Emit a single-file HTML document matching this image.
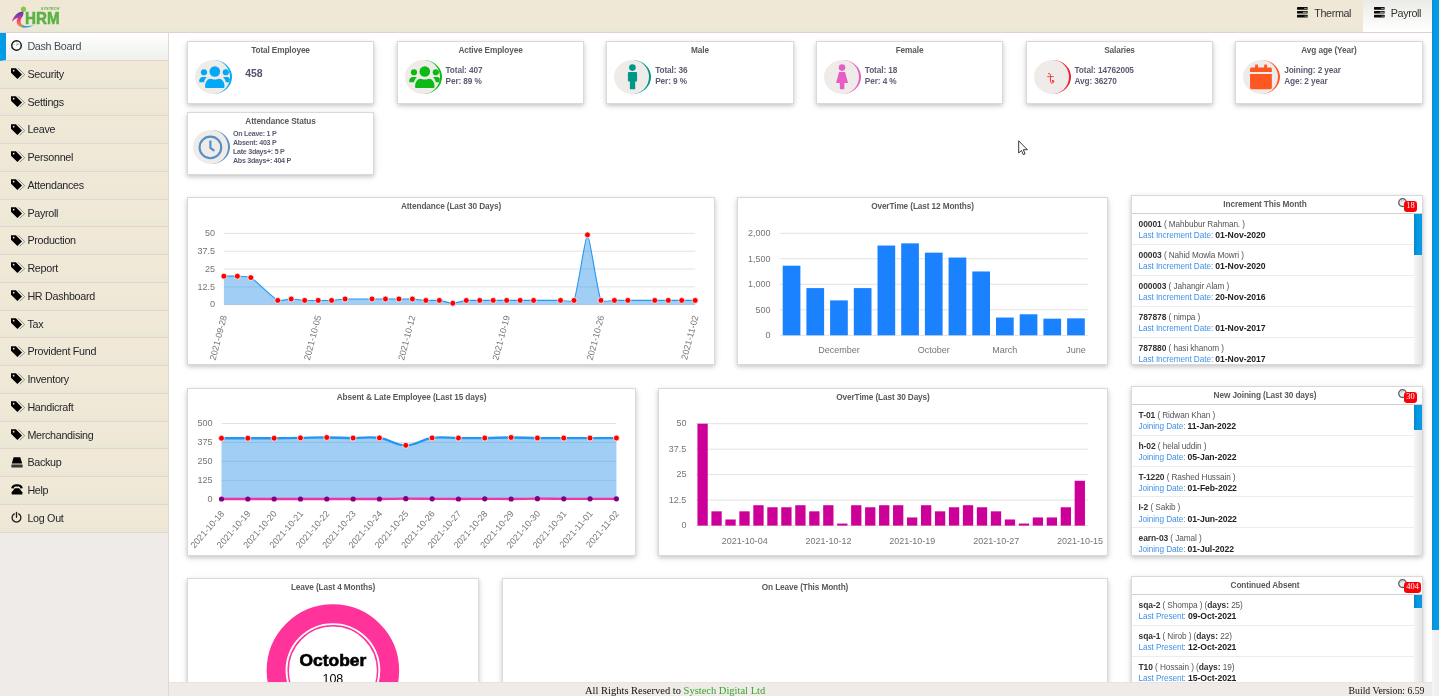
<!DOCTYPE html>
<html lang="en"><head><meta charset="utf-8">
<title>HRM Dash Board</title>
<style>

*{box-sizing:border-box;margin:0;padding:0}
html,body{width:1439px;height:696px;overflow:hidden;background:#fff}
body{font-family:"Liberation Sans",sans-serif;color:#333;font-size:11px}
.page{position:relative;width:1439px;height:696px;overflow:hidden;background:#fff}
svg{display:block;overflow:visible}
svg text{font-family:"Liberation Sans",sans-serif}

/* header */
.top{position:absolute;left:0;top:0;width:1432px;height:33px;border-bottom:1px solid #e2d1ca;
 background:linear-gradient(#efe8d6,#efe8d6 86%,#e9e7d8 93%,#e9e7d8)}
.logo{position:absolute;left:11px;top:5px;width:52px;height:24px}
.tab{position:absolute;top:0;height:32px;font-size:10.75px;letter-spacing:-.35px;color:#333}
.tab svg{position:absolute;top:7.3px}
.tab span{position:absolute;top:7.2px;line-height:12px;white-space:nowrap}
.t1{left:1288px;width:74.5px}
.t1 svg{left:9.3px}.t1 span{left:26.2px}
.t2{left:1362.5px;width:69.5px;background:linear-gradient(#ebebe6,#fff)}
.t2 svg{left:11.2px}.t2 span{left:28.2px}

/* sidebar */
.side{position:absolute;left:0;top:33px;width:169px;height:663px;background:#efebe9;border-right:1px solid #e6d6d0}
.side ul{list-style:none}
.side li{height:27.75px;border-bottom:1px solid #e6d3cb;background:linear-gradient(#f0e9d7,#efe8d6 60%,#eae7d7);position:relative}
.side li.act{background:linear-gradient(#ffffff,#efefec);border-left:6px solid #039be5}
.side a{display:block;height:100%;color:#333}
.side svg{position:absolute;left:11px;top:7.3px}
.side li.act svg{left:5px}
.side span{position:absolute;left:27.4px;top:7.2px;font-size:10.75px;line-height:12px;letter-spacing:-.3px;white-space:nowrap;color:#25252d}
.side li.act span{left:21.4px;top:7.2px;color:#4a4a55}

/* footer */
.foot{position:absolute;left:169px;top:682px;width:1263px;height:14px;background:#efebe9;border-top:1px solid #ece2df;
 font-family:"Liberation Serif",serif;font-size:10.5px;line-height:13px;color:#111}
.foot .f1{position:absolute;left:416px;top:1px;white-space:nowrap}
.foot .g{color:#3aa32c}
.foot .f2{position:absolute;right:7.5px;top:1px;white-space:nowrap;font-size:9.75px}

/* page scrollbar */
.vsb{position:absolute;left:1432px;top:0;width:7px;height:696px;background:linear-gradient(90deg,#f4f4f4,#ededed)}
.vth{position:absolute;left:0;top:0;width:7px;height:630px;background:linear-gradient(90deg,#0a8fd6,#039be5 40%,#039be5)}

/* cards */
.content{position:absolute;left:0;top:0;width:1432px;height:696px;overflow:hidden}
.card{position:absolute;background:#fff;border:1px solid #dbd8d9;box-shadow:0 1.5px 3.75px rgba(0,0,0,.14),0 1.5px 7.5px rgba(0,0,0,.11)}
.card h4{font-size:8.25px;font-weight:bold;color:#5a5a5a;text-align:center;white-space:nowrap;letter-spacing:-.12px}
.stat{width:187px;height:63px}
.stat h4{position:absolute;left:0;right:0;top:4.2px;line-height:10px}
.stat .ico{position:absolute;left:calc(7.1px + var(--dx,0px));top:17.9px;width:37px;height:34px;border-radius:50%;background:#efebe9;
 border-right:2.4px solid #03a9f4;overflow:hidden}
.stat .ico svg{position:absolute}
.stat .txt{position:absolute;left:calc(47.85px + var(--dx,0px));top:22.8px;font-size:8.25px;font-weight:bold;line-height:11px;color:#5f5b73;white-space:nowrap;letter-spacing:-.1px}
.stat .txt .big{font-size:10.5px;letter-spacing:-.1px;color:#56536e}
.stat.c1 .txt{left:57.3px;top:26.4px}
.stat.att .ico{left:5px;top:17px}
.stat.att .txt{left:45px;top:16.9px;font-size:7.1px;line-height:9px;letter-spacing:-.27px}

.chart h4{position:absolute;left:0;right:0;top:3.6px;line-height:10px}

/* lists */
.list h4{position:absolute;left:0;right:24px;top:4.4px;line-height:10px}
.list{overflow:hidden}
.list .rows{position:absolute;left:0;right:0;top:17px;bottom:0;border-top:1px solid #cfcfcf;overflow:hidden}
.list .row{height:30.83px;border-bottom:1px solid #ececec;padding:4.9px 0 0 6.5px;font-size:8.25px;line-height:11.2px;color:#555;white-space:nowrap;letter-spacing:-.1px}
.list .row b{color:#333;font-size:8.45px;letter-spacing:-.05px}
.list .row .lb{color:#3f93e6;font-size:8.25px;letter-spacing:-.1px}
.list .row .dt{font-size:8.65px;letter-spacing:-.05px;color:#222}
.list .sb{position:absolute;right:0;top:18px;bottom:0;width:7.6px;background:linear-gradient(90deg,#f6f6f6,#e4e4e4)}
.list .th{position:absolute;left:0;top:0;width:100%;background:linear-gradient(90deg,#0a86c8,#039be5 50%,#039be5)}
.list .bell{position:absolute;left:265.6px;top:2.3px;width:10px;height:10px}
.list .badge{position:absolute;left:271.9px;top:5px;height:10.6px;border-radius:3.2px;background:#fb0007;color:#fff;
 font-family:"Liberation Serif",serif;font-size:8.4px;line-height:10.6px;text-align:center;font-weight:normal}

</style></head><body>
<div class="page">
<main class="content">
<section class="card stat c1" style="left:187px;top:41px;width:187px;--dx:0px"><h4>Total Employee</h4><div class="ico" style="border-right-color:#03a9f4"><svg width="37" height="34" viewBox="0 0 37 34" style="left:0;top:0"><g fill="#03a9f4" transform="translate(.2 .35)"><circle cx="19.6" cy="11.1" r="5.3"/><path d="M10.6 27.6 C9.4 27.6 9.9 23.5 10.8 21.6 C11.8 19.5 13.6 18.3 15.4 18.3 C16.6 18.3 17.6 19.2 19.6 19.2 C21.6 19.2 22.6 18.3 23.8 18.3 C25.6 18.3 27.4 19.5 28.4 21.6 C29.3 23.5 29.8 27.6 28.6 27.6 Z"/><circle cx="8.8" cy="11.9" r="3.1"/><circle cx="30.6" cy="11.9" r="3.1"/><path d="M4.6 21.9 C3.7 21.9 3.9 19.4 4.6 18.3 C5.3 17.2 6.5 16.6 7.6 16.6 H11.7 C10.3 17.6 9.2 19.6 8.8 21.9 Z"/><path d="M34.8 21.9 C35.7 21.9 35.5 19.4 34.8 18.3 C34.1 17.2 32.9 16.6 31.8 16.6 H27.7 C29.1 17.6 30.2 19.6 30.6 21.9 Z"/></g></svg></div><div class="txt"><div><b class="big">458</b></div></div></section>
<section class="card stat " style="left:397px;top:41px;width:187px;--dx:-0.33px"><h4>Active Employee</h4><div class="ico" style="border-right-color:#0bba14"><svg width="37" height="34" viewBox="0 0 37 34" style="left:0;top:0"><g fill="#0bba14" transform="translate(.2 .35)"><circle cx="19.6" cy="11.1" r="5.3"/><path d="M10.6 27.6 C9.4 27.6 9.9 23.5 10.8 21.6 C11.8 19.5 13.6 18.3 15.4 18.3 C16.6 18.3 17.6 19.2 19.6 19.2 C21.6 19.2 22.6 18.3 23.8 18.3 C25.6 18.3 27.4 19.5 28.4 21.6 C29.3 23.5 29.8 27.6 28.6 27.6 Z"/><circle cx="8.8" cy="11.9" r="3.1"/><circle cx="30.6" cy="11.9" r="3.1"/><path d="M4.6 21.9 C3.7 21.9 3.9 19.4 4.6 18.3 C5.3 17.2 6.5 16.6 7.6 16.6 H11.7 C10.3 17.6 9.2 19.6 8.8 21.9 Z"/><path d="M34.8 21.9 C35.7 21.9 35.5 19.4 34.8 18.3 C34.1 17.2 32.9 16.6 31.8 16.6 H27.7 C29.1 17.6 30.2 19.6 30.6 21.9 Z"/></g></svg></div><div class="txt"><div>Total: 407</div><div>Per: 89 %</div></div></section>
<section class="card stat " style="left:606px;top:41px;width:188px;--dx:0.33px"><h4>Male</h4><div class="ico" style="border-right-color:#009688"><svg width="37" height="34" viewBox="0 0 37 34" style="left:0;top:0"><g fill="#009688" transform="translate(.5 0)"><circle cx="17.9" cy="7.6" r="3.3"/><path d="M14.6 11.9 H21.4 C22.1 11.9 22.6 12.4 22.6 13.1 V20.6 C22.6 21.2 22.2 21.6 21.6 21.6 H20.7 V28.4 C20.7 29 20.3 29.3 19.8 29.3 H16.2 C15.7 29.3 15.4 29 15.4 28.4 V21.6 H14.4 C13.8 21.6 13.4 21.2 13.4 20.6 V13.1 C13.4 12.4 13.9 11.9 14.6 11.9 Z"/></g></svg></div><div class="txt"><div>Total: 36</div><div>Per: 9 %</div></div></section>
<section class="card stat " style="left:816px;top:41px;width:187px;--dx:0px"><h4>Female</h4><div class="ico" style="border-right-color:#e85cc8"><svg width="37" height="34" viewBox="0 0 37 34" style="left:0;top:0"><g fill="#e85cc6" transform="translate(.45 0)"><circle cx="17.6" cy="7.6" r="3.3"/><path d="M14.6 11.9 H20.6 L23.6 23.1 H19.9 V28.6 C19.9 29.1 19.6 29.3 19.2 29.3 H16.1 C15.7 29.3 15.4 29.1 15.4 28.6 V23.1 H11.6 Z"/></g></svg></div><div class="txt"><div>Total: 18</div><div>Per: 4 %</div></div></section>
<section class="card stat " style="left:1026px;top:41px;width:187px;--dx:-0.33px"><h4>Salaries</h4><div class="ico" style="border-right-color:#f0202a"><svg width="37" height="34" viewBox="0 0 37 34" style="left:-.4px;top:0"><path d="M15.4 13.6 C16.9 13.2 17.8 14.3 17.5 15.8 V21.4 C17.6 23.4 19.8 23.8 20.6 22.2 C21.1 21.2 20.5 20.2 19.6 20.4" fill="none" stroke="#ff2a2a" stroke-width=".95" stroke-linecap="round"/><path d="M14.6 16.6 H20.4" fill="none" stroke="#ff2a2a" stroke-width=".85" stroke-linecap="round"/><circle cx="19.7" cy="21" r=".9" fill="#ff2a2a"/></svg></div><div class="txt"><div>Total: 14762005</div><div>Avg: 36270</div></div></section>
<section class="card stat " style="left:1235px;top:41px;width:188px;--dx:0.33px"><h4>Avg age (Year)</h4><div class="ico" style="border-right-color:#ff5722"><svg width="37" height="34" viewBox="0 0 37 34" style="left:0;top:0"><g fill="#ff5722" transform="translate(.95 0)"><rect x="11.2" y="4.4" width="2.8" height="5" rx=".6"/><rect x="20.2" y="4.4" width="2.8" height="5" rx=".6"/><path d="M7.8 7.6 H26.2 C27.2 7.6 27.9 8.3 27.9 9.3 V11.9 H6.1 V9.3 C6.1 8.3 6.8 7.6 7.8 7.6 Z"/><path d="M6.1 14 H27.9 V27.6 C27.9 28.6 27.2 29.3 26.2 29.3 H7.8 C6.8 29.3 6.1 28.6 6.1 27.6 Z"/></g></svg></div><div class="txt"><div>Joining: 2 year</div><div>Age: 2 year</div></div></section>
<section class="card stat att" style="left:187px;top:112px"><h4>Attendance Status</h4><div class="ico" style="border-right-color:#5b8fc0"><svg width="37" height="34" viewBox="0 0 37 34" style="left:0;top:0"><circle cx="17.4" cy="17.4" r="10.8" fill="none" stroke="#5590c6" stroke-width="2.1"/><path d="M17.4 10.4 V18 L21.4 20.9" fill="none" stroke="#5590c6" stroke-width="2.2"/></svg></div><div class="txt small"><div>On Leave: 1 P</div><div>Absent: 403 P</div><div>Late 3days+: 5 P</div><div>Abs 3days+: 404 P</div></div></section>
<section class="card chart c-att" style="left:187px;top:197px;width:528px;height:168px"><h4>Attendance (Last 30 Days)</h4><svg width="528" height="168" viewBox="187 197 528 168" style="position:absolute;left:-1px;top:-1px"><path d="M223.9 233.4H695.2" stroke="#e2e2e2" stroke-width="1" fill="none"/><path d="M223.9 251.22H695.2" stroke="#e2e2e2" stroke-width="1" fill="none"/><path d="M223.9 269.05H695.2" stroke="#e2e2e2" stroke-width="1" fill="none"/><path d="M223.9 286.88H695.2" stroke="#e2e2e2" stroke-width="1" fill="none"/><path d="M223.9 304.7H695.2" stroke="#e2e2e2" stroke-width="1" fill="none"/><text x="215" y="236.19" text-anchor="end" font-size="9" fill="#757575">50</text><text x="215" y="254.01" text-anchor="end" font-size="9" fill="#757575">37.5</text><text x="215" y="271.84" text-anchor="end" font-size="9" fill="#757575">25</text><text x="215" y="289.67" text-anchor="end" font-size="9" fill="#757575">12.5</text><text x="215" y="307.49" text-anchor="end" font-size="9" fill="#757575">0</text><path d="M223.9 276.18 C226.05 276.18 235.22 276.07 237.37 276.18 C239.53 276.29 249.04 276.53 250.83 277.61 C255.5 280.41 273.09 297.95 277.76 300.42 C279.55 301.37 289.07 299 291.23 299 C293.38 299 302.53 300.31 304.69 300.42 C306.84 300.54 316.01 300.42 318.16 300.42 C320.31 300.42 329.48 300.54 331.63 300.42 C333.79 300.31 342.93 299.07 345.09 299 C349.39 298.84 367.71 299 372.02 299 C374.18 299 383.33 299 385.49 299 C387.64 299 396.8 299 398.95 299 C401.11 299 410.27 298.88 412.42 299 C414.58 299.11 423.73 300.31 425.89 300.42 C428.03 300.54 437.22 300.2 439.35 300.42 C441.53 300.65 450.66 303.27 452.82 303.27 C454.97 303.27 464.1 300.65 466.28 300.42 C468.41 300.2 477.59 300.42 479.75 300.42 C481.9 300.42 491.06 300.42 493.21 300.42 C495.37 300.42 504.53 300.42 506.68 300.42 C508.83 300.42 517.99 300.42 520.15 300.42 C522.3 300.42 531.46 300.42 533.61 300.42 C537.92 300.42 556.23 300.42 560.54 300.42 C562.7 300.42 573.29 302.18 574.01 300.42 C577.6 291.68 585.32 234.83 587.47 234.83 C589.63 234.83 597.35 291.68 600.94 300.42 C601.66 302.18 612.25 300.42 614.41 300.42 C616.56 300.42 625.72 300.42 627.87 300.42 C632.18 300.42 650.49 300.42 654.8 300.42 C656.96 300.42 666.11 300.42 668.27 300.42 C670.42 300.42 679.58 300.42 681.73 300.42 C683.89 300.42 693.05 300.42 695.2 300.42 L695.2 304.7 L223.9 304.7 Z" fill="#2a8fe6" fill-opacity=".44" stroke="none"/><path d="M223.9 276.18 C226.05 276.18 235.22 276.07 237.37 276.18 C239.53 276.29 249.04 276.53 250.83 277.61 C255.5 280.41 273.09 297.95 277.76 300.42 C279.55 301.37 289.07 299 291.23 299 C293.38 299 302.53 300.31 304.69 300.42 C306.84 300.54 316.01 300.42 318.16 300.42 C320.31 300.42 329.48 300.54 331.63 300.42 C333.79 300.31 342.93 299.07 345.09 299 C349.39 298.84 367.71 299 372.02 299 C374.18 299 383.33 299 385.49 299 C387.64 299 396.8 299 398.95 299 C401.11 299 410.27 298.88 412.42 299 C414.58 299.11 423.73 300.31 425.89 300.42 C428.03 300.54 437.22 300.2 439.35 300.42 C441.53 300.65 450.66 303.27 452.82 303.27 C454.97 303.27 464.1 300.65 466.28 300.42 C468.41 300.2 477.59 300.42 479.75 300.42 C481.9 300.42 491.06 300.42 493.21 300.42 C495.37 300.42 504.53 300.42 506.68 300.42 C508.83 300.42 517.99 300.42 520.15 300.42 C522.3 300.42 531.46 300.42 533.61 300.42 C537.92 300.42 556.23 300.42 560.54 300.42 C562.7 300.42 573.29 302.18 574.01 300.42 C577.6 291.68 585.32 234.83 587.47 234.83 C589.63 234.83 597.35 291.68 600.94 300.42 C601.66 302.18 612.25 300.42 614.41 300.42 C616.56 300.42 625.72 300.42 627.87 300.42 C632.18 300.42 650.49 300.42 654.8 300.42 C656.96 300.42 666.11 300.42 668.27 300.42 C670.42 300.42 679.58 300.42 681.73 300.42 C683.89 300.42 693.05 300.42 695.2 300.42" fill="none" stroke="#2196f3" stroke-width="1.1"/><circle cx="223.9" cy="276.18" r="2.95" fill="#ff0000" stroke="#fff" stroke-width=".75"/><circle cx="237.37" cy="276.18" r="2.95" fill="#ff0000" stroke="#fff" stroke-width=".75"/><circle cx="250.83" cy="277.61" r="2.95" fill="#ff0000" stroke="#fff" stroke-width=".75"/><circle cx="277.76" cy="300.42" r="2.95" fill="#ff0000" stroke="#fff" stroke-width=".75"/><circle cx="291.23" cy="299" r="2.95" fill="#ff0000" stroke="#fff" stroke-width=".75"/><circle cx="304.69" cy="300.42" r="2.95" fill="#ff0000" stroke="#fff" stroke-width=".75"/><circle cx="318.16" cy="300.42" r="2.95" fill="#ff0000" stroke="#fff" stroke-width=".75"/><circle cx="331.63" cy="300.42" r="2.95" fill="#ff0000" stroke="#fff" stroke-width=".75"/><circle cx="345.09" cy="299" r="2.95" fill="#ff0000" stroke="#fff" stroke-width=".75"/><circle cx="372.02" cy="299" r="2.95" fill="#ff0000" stroke="#fff" stroke-width=".75"/><circle cx="385.49" cy="299" r="2.95" fill="#ff0000" stroke="#fff" stroke-width=".75"/><circle cx="398.95" cy="299" r="2.95" fill="#ff0000" stroke="#fff" stroke-width=".75"/><circle cx="412.42" cy="299" r="2.95" fill="#ff0000" stroke="#fff" stroke-width=".75"/><circle cx="425.89" cy="300.42" r="2.95" fill="#ff0000" stroke="#fff" stroke-width=".75"/><circle cx="439.35" cy="300.42" r="2.95" fill="#ff0000" stroke="#fff" stroke-width=".75"/><circle cx="452.82" cy="303.27" r="2.95" fill="#ff0000" stroke="#fff" stroke-width=".75"/><circle cx="466.28" cy="300.42" r="2.95" fill="#ff0000" stroke="#fff" stroke-width=".75"/><circle cx="479.75" cy="300.42" r="2.95" fill="#ff0000" stroke="#fff" stroke-width=".75"/><circle cx="493.21" cy="300.42" r="2.95" fill="#ff0000" stroke="#fff" stroke-width=".75"/><circle cx="506.68" cy="300.42" r="2.95" fill="#ff0000" stroke="#fff" stroke-width=".75"/><circle cx="520.15" cy="300.42" r="2.95" fill="#ff0000" stroke="#fff" stroke-width=".75"/><circle cx="533.61" cy="300.42" r="2.95" fill="#ff0000" stroke="#fff" stroke-width=".75"/><circle cx="560.54" cy="300.42" r="2.95" fill="#ff0000" stroke="#fff" stroke-width=".75"/><circle cx="574.01" cy="300.42" r="2.95" fill="#ff0000" stroke="#fff" stroke-width=".75"/><circle cx="587.47" cy="234.83" r="2.95" fill="#ff0000" stroke="#fff" stroke-width=".75"/><circle cx="600.94" cy="300.42" r="2.95" fill="#ff0000" stroke="#fff" stroke-width=".75"/><circle cx="614.41" cy="300.42" r="2.95" fill="#ff0000" stroke="#fff" stroke-width=".75"/><circle cx="627.87" cy="300.42" r="2.95" fill="#ff0000" stroke="#fff" stroke-width=".75"/><circle cx="654.8" cy="300.42" r="2.95" fill="#ff0000" stroke="#fff" stroke-width=".75"/><circle cx="668.27" cy="300.42" r="2.95" fill="#ff0000" stroke="#fff" stroke-width=".75"/><circle cx="681.73" cy="300.42" r="2.95" fill="#ff0000" stroke="#fff" stroke-width=".75"/><circle cx="695.2" cy="300.42" r="2.95" fill="#ff0000" stroke="#fff" stroke-width=".75"/><text transform="translate(224.1 315.5) rotate(-75.5)" text-anchor="end" font-size="9" fill="#757575" dy="3.1">2021-09-28</text><text transform="translate(318.36 315.5) rotate(-75.5)" text-anchor="end" font-size="9" fill="#757575" dy="3.1">2021-10-05</text><text transform="translate(412.62 315.5) rotate(-75.5)" text-anchor="end" font-size="9" fill="#757575" dy="3.1">2021-10-12</text><text transform="translate(506.88 315.5) rotate(-75.5)" text-anchor="end" font-size="9" fill="#757575" dy="3.1">2021-10-19</text><text transform="translate(601.14 315.5) rotate(-75.5)" text-anchor="end" font-size="9" fill="#757575" dy="3.1">2021-10-26</text><text transform="translate(695.4 315.5) rotate(-75.5)" text-anchor="end" font-size="9" fill="#757575" dy="3.1">2021-11-02</text></svg></section>
<section class="card chart c-ot12" style="left:737px;top:197px;width:371px;height:168px"><h4>OverTime (Last 12 Months)</h4><svg width="371" height="168" viewBox="737 197 371 168" style="position:absolute;left:-1px;top:-1px"><path d="M779.7 233.25H1087.8" stroke="#e2e2e2" stroke-width="1" fill="none"/><path d="M779.7 258.76H1087.8" stroke="#e2e2e2" stroke-width="1" fill="none"/><path d="M779.7 284.27H1087.8" stroke="#e2e2e2" stroke-width="1" fill="none"/><path d="M779.7 309.79H1087.8" stroke="#e2e2e2" stroke-width="1" fill="none"/><path d="M779.7 335.3H1087.8" stroke="#e2e2e2" stroke-width="1" fill="none"/><text x="770.6" y="236.04" text-anchor="end" font-size="9" fill="#757575">2,000</text><text x="770.6" y="261.55" text-anchor="end" font-size="9" fill="#757575">1,500</text><text x="770.6" y="287.06" text-anchor="end" font-size="9" fill="#757575">1,000</text><text x="770.6" y="312.58" text-anchor="end" font-size="9" fill="#757575">500</text><text x="770.6" y="338.09" text-anchor="end" font-size="9" fill="#757575">0</text><rect x="782.7" y="265.7" width="17.7" height="69.6" fill="#1a82ff"/><rect x="806.4" y="288.1" width="17.7" height="47.2" fill="#1a82ff"/><rect x="830.1" y="300.4" width="17.7" height="34.9" fill="#1a82ff"/><rect x="853.8" y="288.1" width="17.7" height="47.2" fill="#1a82ff"/><rect x="877.5" y="245.55" width="17.7" height="89.75" fill="#1a82ff"/><rect x="901.2" y="243.35" width="17.7" height="91.95" fill="#1a82ff"/><rect x="924.9" y="252.64" width="17.7" height="82.66" fill="#1a82ff"/><rect x="948.6" y="257.54" width="17.7" height="77.76" fill="#1a82ff"/><rect x="972.3" y="271.47" width="17.7" height="63.83" fill="#1a82ff"/><rect x="996" y="317.54" width="17.7" height="17.76" fill="#1a82ff"/><rect x="1019.7" y="314.28" width="17.7" height="21.02" fill="#1a82ff"/><rect x="1043.4" y="318.67" width="17.7" height="16.63" fill="#1a82ff"/><rect x="1067.1" y="318.36" width="17.7" height="16.94" fill="#1a82ff"/><text x="838.95" y="353" text-anchor="middle" font-size="9" fill="#757575">December</text><text x="933.75" y="353" text-anchor="middle" font-size="9" fill="#757575">October</text><text x="1004.85" y="353" text-anchor="middle" font-size="9" fill="#757575">March</text><text x="1075.95" y="353" text-anchor="middle" font-size="9" fill="#757575">June</text></svg></section>
<section class="card chart c-abs" style="left:187px;top:388px;width:449px;height:168px"><h4>Absent &amp; Late Employee (Last 15 days)</h4><svg width="449" height="168" viewBox="187 388 449 168" style="position:absolute;left:-1px;top:-1px"><path d="M221.5 423.5H616.4" stroke="#e2e2e2" stroke-width="1" fill="none"/><path d="M221.5 442.45H616.4" stroke="#e2e2e2" stroke-width="1" fill="none"/><path d="M221.5 461.4H616.4" stroke="#e2e2e2" stroke-width="1" fill="none"/><path d="M221.5 480.35H616.4" stroke="#e2e2e2" stroke-width="1" fill="none"/><path d="M221.5 499.3H616.4" stroke="#e2e2e2" stroke-width="1" fill="none"/><text x="212.6" y="426.29" text-anchor="end" font-size="9" fill="#757575">500</text><text x="212.6" y="445.24" text-anchor="end" font-size="9" fill="#757575">375</text><text x="212.6" y="464.19" text-anchor="end" font-size="9" fill="#757575">250</text><text x="212.6" y="483.14" text-anchor="end" font-size="9" fill="#757575">125</text><text x="212.6" y="502.09" text-anchor="end" font-size="9" fill="#757575">0</text><path d="M221.5 438.21 C232.03 438.21 237.3 438.21 247.83 438.21 C258.36 438.21 263.62 438.27 274.15 438.21 C284.68 438.14 289.95 438.05 300.48 437.9 C311.01 437.75 316.28 437.42 326.81 437.45 C337.34 437.48 342.6 437.96 353.13 438.05 C363.66 438.14 369.13 436.47 379.46 437.9 C390.19 439.39 395.26 445.33 405.79 445.33 C416.32 445.33 421.38 439.39 432.11 437.9 C442.44 436.47 447.91 438.02 458.44 438.05 C468.97 438.08 474.24 438.17 484.77 438.05 C495.3 437.93 500.56 437.45 511.09 437.45 C521.62 437.45 526.89 437.93 537.42 438.05 C547.95 438.17 553.22 438.05 563.75 438.05 C574.28 438.05 579.54 438.05 590.07 438.05 C600.6 438.05 605.87 438.05 616.4 438.05 L616.4 499.3 L221.5 499.3 Z" fill="#2a8fe6" fill-opacity=".44" stroke="none"/><path d="M221.5 438.21 C232.03 438.21 237.3 438.21 247.83 438.21 C258.36 438.21 263.62 438.27 274.15 438.21 C284.68 438.14 289.95 438.05 300.48 437.9 C311.01 437.75 316.28 437.42 326.81 437.45 C337.34 437.48 342.6 437.96 353.13 438.05 C363.66 438.14 369.13 436.47 379.46 437.9 C390.19 439.39 395.26 445.33 405.79 445.33 C416.32 445.33 421.38 439.39 432.11 437.9 C442.44 436.47 447.91 438.02 458.44 438.05 C468.97 438.08 474.24 438.17 484.77 438.05 C495.3 437.93 500.56 437.45 511.09 437.45 C521.62 437.45 526.89 437.93 537.42 438.05 C547.95 438.17 553.22 438.05 563.75 438.05 C574.28 438.05 579.54 438.05 590.07 438.05 C600.6 438.05 605.87 438.05 616.4 438.05" fill="none" stroke="#2196f3" stroke-width="2.35"/><path d="M221.5 499 C232.03 499 237.3 499 247.83 499 C258.36 499 263.62 499 274.15 499 C284.68 499 289.95 499 300.48 499 C311.01 499 316.28 499 326.81 499 C337.34 499 342.6 499 353.13 499 C363.66 499 368.93 499.06 379.46 499 C389.99 498.94 395.26 498.72 405.79 498.69 C416.32 498.66 421.58 498.78 432.11 498.85 C442.64 498.91 447.91 499 458.44 499 C468.97 499 474.24 498.85 484.77 498.85 C495.3 498.85 500.56 499.03 511.09 499 C521.62 498.97 526.89 498.72 537.42 498.69 C547.95 498.66 553.22 498.81 563.75 498.85 C574.28 498.88 579.54 498.85 590.07 498.85 C600.6 498.85 605.87 498.85 616.4 498.85" fill="none" stroke="#f035a8" stroke-width="2.3"/><circle cx="221.5" cy="438.21" r="2.95" fill="#ff0000" stroke="#fff" stroke-width=".75"/><circle cx="247.83" cy="438.21" r="2.95" fill="#ff0000" stroke="#fff" stroke-width=".75"/><circle cx="274.15" cy="438.21" r="2.95" fill="#ff0000" stroke="#fff" stroke-width=".75"/><circle cx="300.48" cy="437.9" r="2.95" fill="#ff0000" stroke="#fff" stroke-width=".75"/><circle cx="326.81" cy="437.45" r="2.95" fill="#ff0000" stroke="#fff" stroke-width=".75"/><circle cx="353.13" cy="438.05" r="2.95" fill="#ff0000" stroke="#fff" stroke-width=".75"/><circle cx="379.46" cy="437.9" r="2.95" fill="#ff0000" stroke="#fff" stroke-width=".75"/><circle cx="405.79" cy="445.33" r="2.95" fill="#ff0000" stroke="#fff" stroke-width=".75"/><circle cx="432.11" cy="437.9" r="2.95" fill="#ff0000" stroke="#fff" stroke-width=".75"/><circle cx="458.44" cy="438.05" r="2.95" fill="#ff0000" stroke="#fff" stroke-width=".75"/><circle cx="484.77" cy="438.05" r="2.95" fill="#ff0000" stroke="#fff" stroke-width=".75"/><circle cx="511.09" cy="437.45" r="2.95" fill="#ff0000" stroke="#fff" stroke-width=".75"/><circle cx="537.42" cy="438.05" r="2.95" fill="#ff0000" stroke="#fff" stroke-width=".75"/><circle cx="563.75" cy="438.05" r="2.95" fill="#ff0000" stroke="#fff" stroke-width=".75"/><circle cx="590.07" cy="438.05" r="2.95" fill="#ff0000" stroke="#fff" stroke-width=".75"/><circle cx="616.4" cy="438.05" r="2.95" fill="#ff0000" stroke="#fff" stroke-width=".75"/><circle cx="221.5" cy="499" r="2.6" fill="#800080"/><circle cx="247.83" cy="499" r="2.6" fill="#800080"/><circle cx="274.15" cy="499" r="2.6" fill="#800080"/><circle cx="300.48" cy="499" r="2.6" fill="#800080"/><circle cx="326.81" cy="499" r="2.6" fill="#800080"/><circle cx="353.13" cy="499" r="2.6" fill="#800080"/><circle cx="379.46" cy="499" r="2.6" fill="#800080"/><circle cx="405.79" cy="498.69" r="2.6" fill="#800080"/><circle cx="432.11" cy="498.85" r="2.6" fill="#800080"/><circle cx="458.44" cy="499" r="2.6" fill="#800080"/><circle cx="484.77" cy="498.85" r="2.6" fill="#800080"/><circle cx="511.09" cy="499" r="2.6" fill="#800080"/><circle cx="537.42" cy="498.69" r="2.6" fill="#800080"/><circle cx="563.75" cy="498.85" r="2.6" fill="#800080"/><circle cx="590.07" cy="498.85" r="2.6" fill="#800080"/><circle cx="616.4" cy="498.85" r="2.6" fill="#800080"/><text transform="translate(222.4 511.9) rotate(-49)" text-anchor="end" font-size="9" fill="#757575" dy="3.1">2021-10-18</text><text transform="translate(248.73 511.9) rotate(-49)" text-anchor="end" font-size="9" fill="#757575" dy="3.1">2021-10-19</text><text transform="translate(275.05 511.9) rotate(-49)" text-anchor="end" font-size="9" fill="#757575" dy="3.1">2021-10-20</text><text transform="translate(301.38 511.9) rotate(-49)" text-anchor="end" font-size="9" fill="#757575" dy="3.1">2021-10-21</text><text transform="translate(327.71 511.9) rotate(-49)" text-anchor="end" font-size="9" fill="#757575" dy="3.1">2021-10-22</text><text transform="translate(354.03 511.9) rotate(-49)" text-anchor="end" font-size="9" fill="#757575" dy="3.1">2021-10-23</text><text transform="translate(380.36 511.9) rotate(-49)" text-anchor="end" font-size="9" fill="#757575" dy="3.1">2021-10-24</text><text transform="translate(406.69 511.9) rotate(-49)" text-anchor="end" font-size="9" fill="#757575" dy="3.1">2021-10-25</text><text transform="translate(433.01 511.9) rotate(-49)" text-anchor="end" font-size="9" fill="#757575" dy="3.1">2021-10-26</text><text transform="translate(459.34 511.9) rotate(-49)" text-anchor="end" font-size="9" fill="#757575" dy="3.1">2021-10-27</text><text transform="translate(485.67 511.9) rotate(-49)" text-anchor="end" font-size="9" fill="#757575" dy="3.1">2021-10-28</text><text transform="translate(511.99 511.9) rotate(-49)" text-anchor="end" font-size="9" fill="#757575" dy="3.1">2021-10-29</text><text transform="translate(538.32 511.9) rotate(-49)" text-anchor="end" font-size="9" fill="#757575" dy="3.1">2021-10-30</text><text transform="translate(564.65 511.9) rotate(-49)" text-anchor="end" font-size="9" fill="#757575" dy="3.1">2021-10-31</text><text transform="translate(590.97 511.9) rotate(-49)" text-anchor="end" font-size="9" fill="#757575" dy="3.1">2021-11-01</text><text transform="translate(617.3 511.9) rotate(-49)" text-anchor="end" font-size="9" fill="#757575" dy="3.1">2021-11-02</text></svg></section>
<section class="card chart c-ot30" style="left:658px;top:388px;width:450px;height:168px"><h4>OverTime (Last 30 Days)</h4><svg width="450" height="168" viewBox="658 388 450 168" style="position:absolute;left:-1px;top:-1px"><path d="M695.6 423.7H1088.2" stroke="#e2e2e2" stroke-width="1" fill="none"/><path d="M695.6 449.18H1088.2" stroke="#e2e2e2" stroke-width="1" fill="none"/><path d="M695.6 474.65H1088.2" stroke="#e2e2e2" stroke-width="1" fill="none"/><path d="M695.6 500.12H1088.2" stroke="#e2e2e2" stroke-width="1" fill="none"/><path d="M695.6 525.6H1088.2" stroke="#e2e2e2" stroke-width="1" fill="none"/><text x="686.4" y="426.49" text-anchor="end" font-size="9" fill="#757575">50</text><text x="686.4" y="451.97" text-anchor="end" font-size="9" fill="#757575">37.5</text><text x="686.4" y="477.44" text-anchor="end" font-size="9" fill="#757575">25</text><text x="686.4" y="502.92" text-anchor="end" font-size="9" fill="#757575">12.5</text><text x="686.4" y="528.39" text-anchor="end" font-size="9" fill="#757575">0</text><rect x="697.44" y="423.7" width="10.3" height="101.9" fill="#cc0099"/><rect x="711.41" y="511.33" width="10.3" height="14.27" fill="#cc0099"/><rect x="725.38" y="519.49" width="10.3" height="6.11" fill="#cc0099"/><rect x="739.35" y="511.33" width="10.3" height="14.27" fill="#cc0099"/><rect x="753.32" y="505.22" width="10.3" height="20.38" fill="#cc0099"/><rect x="767.29" y="507.26" width="10.3" height="18.34" fill="#cc0099"/><rect x="781.26" y="507.26" width="10.3" height="18.34" fill="#cc0099"/><rect x="795.24" y="505.22" width="10.3" height="20.38" fill="#cc0099"/><rect x="809.21" y="511.33" width="10.3" height="14.27" fill="#cc0099"/><rect x="823.18" y="505.22" width="10.3" height="20.38" fill="#cc0099"/><rect x="837.15" y="523.56" width="10.3" height="2.04" fill="#cc0099"/><rect x="851.12" y="505.22" width="10.3" height="20.38" fill="#cc0099"/><rect x="865.09" y="507.26" width="10.3" height="18.34" fill="#cc0099"/><rect x="879.06" y="505.22" width="10.3" height="20.38" fill="#cc0099"/><rect x="893.04" y="505.22" width="10.3" height="20.38" fill="#cc0099"/><rect x="907.01" y="517.45" width="10.3" height="8.15" fill="#cc0099"/><rect x="920.98" y="505.22" width="10.3" height="20.38" fill="#cc0099"/><rect x="934.95" y="511.33" width="10.3" height="14.27" fill="#cc0099"/><rect x="948.92" y="507.26" width="10.3" height="18.34" fill="#cc0099"/><rect x="962.89" y="505.22" width="10.3" height="20.38" fill="#cc0099"/><rect x="976.86" y="507.26" width="10.3" height="18.34" fill="#cc0099"/><rect x="990.84" y="511.33" width="10.3" height="14.27" fill="#cc0099"/><rect x="1004.81" y="519.49" width="10.3" height="6.11" fill="#cc0099"/><rect x="1018.78" y="523.56" width="10.3" height="2.04" fill="#cc0099"/><rect x="1032.75" y="517.45" width="10.3" height="8.15" fill="#cc0099"/><rect x="1046.72" y="517.45" width="10.3" height="8.15" fill="#cc0099"/><rect x="1060.69" y="507.26" width="10.3" height="18.34" fill="#cc0099"/><rect x="1074.66" y="480.76" width="10.3" height="44.84" fill="#cc0099"/><text x="744.7" y="543.8" text-anchor="middle" font-size="9" fill="#757575">2021-10-04</text><text x="828.53" y="543.8" text-anchor="middle" font-size="9" fill="#757575">2021-10-12</text><text x="912.36" y="543.8" text-anchor="middle" font-size="9" fill="#757575">2021-10-19</text><text x="996.19" y="543.8" text-anchor="middle" font-size="9" fill="#757575">2021-10-27</text><text x="1080.01" y="543.8" text-anchor="middle" font-size="9" fill="#757575">2021-10-15</text></svg></section>
<section class="card chart c-leave" style="left:187px;top:578px;width:292px;height:130px"><h4>Leave (Last 4 Months)</h4><svg width="292" height="130" viewBox="187 578 292 130" style="position:absolute;left:-1px;top:-1px"><circle cx="332.9" cy="670.5" r="56.8" fill="none" stroke="#ff3399" stroke-width="18.9"/><circle cx="332.9" cy="670.5" r="44.7" fill="none" stroke="#ff3399" stroke-width="1.5"/><text x="332.9" y="666.3" text-anchor="middle" font-size="15.8" font-weight="bold" fill="#000" stroke="#000" stroke-width=".6" textLength="66.8" lengthAdjust="spacingAndGlyphs">October</text><text x="332.9" y="683.2" text-anchor="middle" font-size="12.5" fill="#000">108</text></svg></section>
<section class="card chart c-onl" style="left:502px;top:578px;width:606px;height:130px"><h4>On Leave (This Month)</h4><svg width="606" height="130" viewBox="502 578 606 130" style="position:absolute;left:-1px;top:-1px"></svg></section>
<section class="card list" style="left:1131px;top:195px;width:292px;height:170px">
<h4>Increment This Month</h4><i class="bell"><svg width="10" height="10" viewBox="0 0 10 10"><circle cx="4.6" cy="4.6" r="3.9" fill="#e8eef2" stroke="#5c5c5c" stroke-width="1.3"/><path d="M3 4 a1.6 1.6 0 0 1 3 -1" stroke="#bbb" stroke-width=".8" fill="none"/></svg></i><b class="badge" style="width:13.2px">18</b>
<div class="rows" style="padding-top:0.3px">
<div class="row"><div><b>00001</b> ( Mahbubur Rahman. )</div><div><span class="lb">Last Increment Date:</span> <b class="dt">01-Nov-2020</b></div></div>
<div class="row"><div><b>00003</b> ( Nahid Mowla Mowri )</div><div><span class="lb">Last Increment Date:</span> <b class="dt">01-Nov-2020</b></div></div>
<div class="row"><div><b>000003</b> ( Jahangir Alam )</div><div><span class="lb">Last Increment Date:</span> <b class="dt">20-Nov-2016</b></div></div>
<div class="row"><div><b>787878</b> ( nimpa )</div><div><span class="lb">Last Increment Date:</span> <b class="dt">01-Nov-2017</b></div></div>
<div class="row"><div><b>787880</b> ( hasi khanom )</div><div><span class="lb">Last Increment Date:</span> <b class="dt">01-Nov-2017</b></div></div>
</div>
<div class="sb"><div class="th" style="height:40.6px"></div></div>
</section>
<section class="card list" style="left:1131px;top:386px;width:292px;height:170px">
<h4>New Joining (Last 30 days)</h4><i class="bell"><svg width="10" height="10" viewBox="0 0 10 10"><circle cx="4.6" cy="4.6" r="3.9" fill="#e8eef2" stroke="#5c5c5c" stroke-width="1.3"/><path d="M3 4 a1.6 1.6 0 0 1 3 -1" stroke="#bbb" stroke-width=".8" fill="none"/></svg></i><b class="badge" style="width:13.2px">30</b>
<div class="rows" style="padding-top:0px">
<div class="row"><div><b>T-01</b> ( Ridwan Khan )</div><div><span class="lb">Joining Date:</span> <b class="dt">11-Jan-2022</b></div></div>
<div class="row"><div><b>h-02</b> ( helal uddin )</div><div><span class="lb">Joining Date:</span> <b class="dt">05-Jan-2022</b></div></div>
<div class="row"><div><b>T-1220</b> ( Rashed Hussain )</div><div><span class="lb">Joining Date:</span> <b class="dt">01-Feb-2022</b></div></div>
<div class="row"><div><b>I-2</b> ( Sakib )</div><div><span class="lb">Joining Date:</span> <b class="dt">01-Jun-2022</b></div></div>
<div class="row"><div><b>earn-03</b> ( Jamal )</div><div><span class="lb">Joining Date:</span> <b class="dt">01-Jul-2022</b></div></div>
</div>
<div class="sb"><div class="th" style="height:25.4px"></div></div>
</section>
<section class="card list" style="left:1131px;top:576px;width:292px;height:130px">
<h4>Continued Absent</h4><i class="bell"><svg width="10" height="10" viewBox="0 0 10 10"><circle cx="4.6" cy="4.6" r="3.9" fill="#e8eef2" stroke="#5c5c5c" stroke-width="1.3"/><path d="M3 4 a1.6 1.6 0 0 1 3 -1" stroke="#bbb" stroke-width=".8" fill="none"/></svg></i><b class="badge" style="width:17.3px">404</b>
<div class="rows" style="padding-top:0px">
<div class="row"><div><b>sqa-2</b> ( Shompa ) (<b>days:</b> 25)</div><div><span class="lb">Last Present:</span> <b class="dt">09-Oct-2021</b></div></div>
<div class="row"><div><b>sqa-1</b> ( Nirob ) (<b>days:</b> 22)</div><div><span class="lb">Last Present:</span> <b class="dt">12-Oct-2021</b></div></div>
<div class="row"><div><b>T10</b> ( Hossain ) (<b>days:</b> 19)</div><div><span class="lb">Last Present:</span> <b class="dt">15-Oct-2021</b></div></div>
</div>
<div class="sb"><div class="th" style="height:13.2px"></div></div>
</section>
</main>
<header class="top">
<div class="logo"><svg width="54" height="26" viewBox="0 0 54 26"><defs><linearGradient id="lg1" gradientUnits="userSpaceOnUse" x1="6" y1="6.5" x2="9" y2="22.5"><stop offset="0" stop-color="#5a34a0"/><stop offset=".3" stop-color="#8b3fa5"/><stop offset=".5" stop-color="#ee3b7e"/><stop offset=".8" stop-color="#f4744a"/><stop offset="1" stop-color="#f79a3a"/></linearGradient><linearGradient id="lg2" gradientUnits="userSpaceOnUse" x1="9" y1="21" x2="23" y2="20.5"><stop offset="0" stop-color="#f68e3e"/><stop offset=".3" stop-color="#1b9ad6"/><stop offset="1" stop-color="#49c3e8"/></linearGradient></defs><circle cx="12.5" cy="4.2" r="2.6" fill="#8cc63f"/><path d="M0.9 16.7 C2.2 11.2 7 6.3 12.3 6.4 C12.6 8 12.4 9.8 11.8 11.1 C10.2 13.6 9.2 15.8 9.7 17.6 C10.2 19.6 11.6 20.6 13.4 21 L13.4 22.6 C9.8 22.4 6.8 21.2 5.9 18 C5.5 16.2 5.9 14.2 7.1 12.7 C4.8 13.4 2.6 14.9 0.9 16.7 Z" fill="url(#lg1)"/><path d="M10.6 19.6 C12.2 21 14.2 21 15.8 21 C18.2 21 20.5 20.6 22.9 20.2 C20.5 21.8 17.5 22.6 14.5 22.6 C13 22.6 11.6 22.4 10.4 22 Z" fill="url(#lg2)"/><text x="14.1" y="18.9" font-family="Liberation Sans, sans-serif" font-weight="bold" font-size="16.6" fill="#5ab245" stroke="#5ab245" stroke-width=".55" textLength="34.6" lengthAdjust="spacingAndGlyphs">HRM</text><text x="29.8" y="5" font-family="Liberation Sans, sans-serif" font-weight="bold" font-style="italic" font-size="4" fill="#5ab245" textLength="18.6" lengthAdjust="spacingAndGlyphs">SYSTECH</text></svg></div>
<div class="tab t1"><svg width="11" height="11" viewBox="0 0 11 11"><rect x="0" y="0" width="10.6" height="2.7" rx=".5" fill="#0a0a0a"/><rect x="0" y="3.9" width="10.6" height="2.7" rx=".5" fill="#0a0a0a"/><rect x="0" y="7.8" width="10.6" height="2.7" rx=".5" fill="#0a0a0a"/><rect x="7.2" y=".9" width="2.6" height=".9" fill="#9aa"/><rect x="5.8" y="4.8" width="4" height=".9" fill="#bbb"/><rect x="7.6" y="8.7" width="2.2" height=".9" fill="#999"/></svg><span>Thermal</span></div>
<div class="tab t2"><svg width="11" height="11" viewBox="0 0 11 11"><rect x="0" y="0" width="10.6" height="2.7" rx=".5" fill="#0a0a0a"/><rect x="0" y="3.9" width="10.6" height="2.7" rx=".5" fill="#0a0a0a"/><rect x="0" y="7.8" width="10.6" height="2.7" rx=".5" fill="#0a0a0a"/><rect x="7.2" y=".9" width="2.6" height=".9" fill="#9aa"/><rect x="5.8" y="4.8" width="4" height=".9" fill="#bbb"/><rect x="7.6" y="8.7" width="2.2" height=".9" fill="#999"/></svg><span>Payroll</span></div>
</header>
<nav class="side"><ul>
<li class="act"><a><svg width="11" height="11" viewBox="0 0 11 11"><circle cx="5.5" cy="5.5" r="4.75" fill="#fff" stroke="#151515" stroke-width="1.45"/><path d="M5.4 5.6 L7.2 3.3" stroke="#555" stroke-width=".8" fill="none"/><path d="M2.6 4.6 h1 M7.6 4.6 h.8 M5.5 2.5 v.8" stroke="#888" stroke-width=".7" fill="none"/></svg><span>Dash Board</span></a></li>
<li><a><svg width="15" height="12" viewBox="0 0 15 12"><path d="M0 0.2 L4.9 0.2 L11 6.6 L6.4 11 L0 4.8 Z M1.8 2.7 a0.85 0.85 0 1 0 1.7 0 a0.85 0.85 0 1 0 -1.7 0 Z" fill="#000" fill-rule="evenodd"/><path d="M7.4 0.3 L13.7 6.7 L8.6 11.3" fill="none" stroke="#6f6f78" stroke-width=".7"/></svg><span>Security</span></a></li>
<li><a><svg width="15" height="12" viewBox="0 0 15 12"><path d="M0 0.2 L4.9 0.2 L11 6.6 L6.4 11 L0 4.8 Z M1.8 2.7 a0.85 0.85 0 1 0 1.7 0 a0.85 0.85 0 1 0 -1.7 0 Z" fill="#000" fill-rule="evenodd"/><path d="M7.4 0.3 L13.7 6.7 L8.6 11.3" fill="none" stroke="#6f6f78" stroke-width=".7"/></svg><span>Settings</span></a></li>
<li><a><svg width="15" height="12" viewBox="0 0 15 12"><path d="M0 0.2 L4.9 0.2 L11 6.6 L6.4 11 L0 4.8 Z M1.8 2.7 a0.85 0.85 0 1 0 1.7 0 a0.85 0.85 0 1 0 -1.7 0 Z" fill="#000" fill-rule="evenodd"/><path d="M7.4 0.3 L13.7 6.7 L8.6 11.3" fill="none" stroke="#6f6f78" stroke-width=".7"/></svg><span>Leave</span></a></li>
<li><a><svg width="15" height="12" viewBox="0 0 15 12"><path d="M0 0.2 L4.9 0.2 L11 6.6 L6.4 11 L0 4.8 Z M1.8 2.7 a0.85 0.85 0 1 0 1.7 0 a0.85 0.85 0 1 0 -1.7 0 Z" fill="#000" fill-rule="evenodd"/><path d="M7.4 0.3 L13.7 6.7 L8.6 11.3" fill="none" stroke="#6f6f78" stroke-width=".7"/></svg><span>Personnel</span></a></li>
<li><a><svg width="15" height="12" viewBox="0 0 15 12"><path d="M0 0.2 L4.9 0.2 L11 6.6 L6.4 11 L0 4.8 Z M1.8 2.7 a0.85 0.85 0 1 0 1.7 0 a0.85 0.85 0 1 0 -1.7 0 Z" fill="#000" fill-rule="evenodd"/><path d="M7.4 0.3 L13.7 6.7 L8.6 11.3" fill="none" stroke="#6f6f78" stroke-width=".7"/></svg><span>Attendances</span></a></li>
<li><a><svg width="15" height="12" viewBox="0 0 15 12"><path d="M0 0.2 L4.9 0.2 L11 6.6 L6.4 11 L0 4.8 Z M1.8 2.7 a0.85 0.85 0 1 0 1.7 0 a0.85 0.85 0 1 0 -1.7 0 Z" fill="#000" fill-rule="evenodd"/><path d="M7.4 0.3 L13.7 6.7 L8.6 11.3" fill="none" stroke="#6f6f78" stroke-width=".7"/></svg><span>Payroll</span></a></li>
<li><a><svg width="15" height="12" viewBox="0 0 15 12"><path d="M0 0.2 L4.9 0.2 L11 6.6 L6.4 11 L0 4.8 Z M1.8 2.7 a0.85 0.85 0 1 0 1.7 0 a0.85 0.85 0 1 0 -1.7 0 Z" fill="#000" fill-rule="evenodd"/><path d="M7.4 0.3 L13.7 6.7 L8.6 11.3" fill="none" stroke="#6f6f78" stroke-width=".7"/></svg><span>Production</span></a></li>
<li><a><svg width="15" height="12" viewBox="0 0 15 12"><path d="M0 0.2 L4.9 0.2 L11 6.6 L6.4 11 L0 4.8 Z M1.8 2.7 a0.85 0.85 0 1 0 1.7 0 a0.85 0.85 0 1 0 -1.7 0 Z" fill="#000" fill-rule="evenodd"/><path d="M7.4 0.3 L13.7 6.7 L8.6 11.3" fill="none" stroke="#6f6f78" stroke-width=".7"/></svg><span>Report</span></a></li>
<li><a><svg width="15" height="12" viewBox="0 0 15 12"><path d="M0 0.2 L4.9 0.2 L11 6.6 L6.4 11 L0 4.8 Z M1.8 2.7 a0.85 0.85 0 1 0 1.7 0 a0.85 0.85 0 1 0 -1.7 0 Z" fill="#000" fill-rule="evenodd"/><path d="M7.4 0.3 L13.7 6.7 L8.6 11.3" fill="none" stroke="#6f6f78" stroke-width=".7"/></svg><span>HR Dashboard</span></a></li>
<li><a><svg width="15" height="12" viewBox="0 0 15 12"><path d="M0 0.2 L4.9 0.2 L11 6.6 L6.4 11 L0 4.8 Z M1.8 2.7 a0.85 0.85 0 1 0 1.7 0 a0.85 0.85 0 1 0 -1.7 0 Z" fill="#000" fill-rule="evenodd"/><path d="M7.4 0.3 L13.7 6.7 L8.6 11.3" fill="none" stroke="#6f6f78" stroke-width=".7"/></svg><span>Tax</span></a></li>
<li><a><svg width="15" height="12" viewBox="0 0 15 12"><path d="M0 0.2 L4.9 0.2 L11 6.6 L6.4 11 L0 4.8 Z M1.8 2.7 a0.85 0.85 0 1 0 1.7 0 a0.85 0.85 0 1 0 -1.7 0 Z" fill="#000" fill-rule="evenodd"/><path d="M7.4 0.3 L13.7 6.7 L8.6 11.3" fill="none" stroke="#6f6f78" stroke-width=".7"/></svg><span>Provident Fund</span></a></li>
<li><a><svg width="15" height="12" viewBox="0 0 15 12"><path d="M0 0.2 L4.9 0.2 L11 6.6 L6.4 11 L0 4.8 Z M1.8 2.7 a0.85 0.85 0 1 0 1.7 0 a0.85 0.85 0 1 0 -1.7 0 Z" fill="#000" fill-rule="evenodd"/><path d="M7.4 0.3 L13.7 6.7 L8.6 11.3" fill="none" stroke="#6f6f78" stroke-width=".7"/></svg><span>Inventory</span></a></li>
<li><a><svg width="15" height="12" viewBox="0 0 15 12"><path d="M0 0.2 L4.9 0.2 L11 6.6 L6.4 11 L0 4.8 Z M1.8 2.7 a0.85 0.85 0 1 0 1.7 0 a0.85 0.85 0 1 0 -1.7 0 Z" fill="#000" fill-rule="evenodd"/><path d="M7.4 0.3 L13.7 6.7 L8.6 11.3" fill="none" stroke="#6f6f78" stroke-width=".7"/></svg><span>Handicraft</span></a></li>
<li><a><svg width="15" height="12" viewBox="0 0 15 12"><path d="M0 0.2 L4.9 0.2 L11 6.6 L6.4 11 L0 4.8 Z M1.8 2.7 a0.85 0.85 0 1 0 1.7 0 a0.85 0.85 0 1 0 -1.7 0 Z" fill="#000" fill-rule="evenodd"/><path d="M7.4 0.3 L13.7 6.7 L8.6 11.3" fill="none" stroke="#6f6f78" stroke-width=".7"/></svg><span>Merchandising</span></a></li>
<li><a><svg width="12" height="11" viewBox="0 0 12 11"><path d="M2.6 0.2 H9.3 L11.2 6.6 H0.8 Z" fill="#000"/><path d="M0.5 7.6 H11.5 V10.4 H0.5 Z" fill="#000"/><path d="M1 9 H11" stroke="#ddd" stroke-width=".5"/></svg><span>Backup</span></a></li>
<li><a><svg width="12" height="11" viewBox="0 0 12 11"><path d="M0.3 4.2 C0.3 1.3 3 0.2 6 0.2 C9 0.2 11.7 1.3 11.7 4.2 L9.2 4.4 L9 2.9 C7.5 2.3 4.5 2.3 3 2.9 L2.8 4.4 Z" fill="#000"/><path d="M3.9 4.2 H8.1 L11.3 8.2 V10.6 H0.7 V8.2 Z" fill="#000"/></svg><span>Help</span></a></li>
<li><a><svg width="11" height="11" viewBox="0 0 11 11"><path d="M3.3 1.9 A4.4 4.4 0 1 0 7.7 1.9" stroke="#1a1a1a" stroke-width="1.3" fill="none" stroke-linecap="round"/><path d="M5.5 0.5 V5.3" stroke="#1a1a1a" stroke-width="1.3" stroke-linecap="round"/></svg><span>Log Out</span></a></li>
</ul></nav>
<footer class="foot"><span class="f1">All Rights Reserved to <span class="g">Systech Digital Ltd</span></span><span class="f2">Build Version: 6.59</span></footer>
<div class="vsb"><div class="vth"></div></div>
<svg class="cur" width="12" height="18" viewBox="0 0 12 18" style="position:absolute;left:1018px;top:140.4px"><path d="M0.7 0.8 V13 L3.5 10.5 L5.3 14.6 L7.1 13.8 L5.3 9.7 H9.3 Z" fill="#fff" stroke="#222" stroke-width=".9" stroke-linejoin="round"/></svg>
</div></body></html>
